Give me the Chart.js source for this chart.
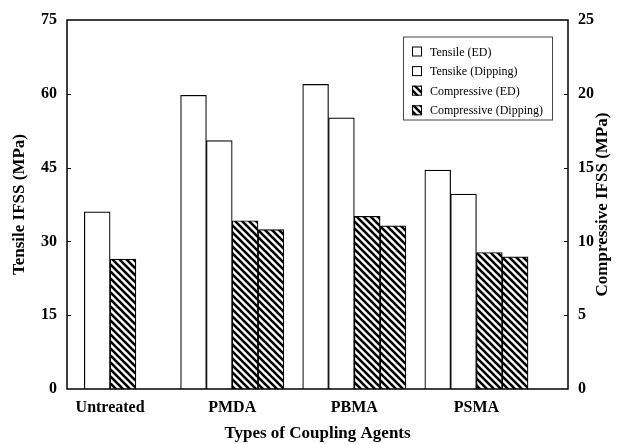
<!DOCTYPE html>
<html>
<head>
<meta charset="utf-8">
<title>IFSS by coupling agent</title>
<script src="https://cdn.jsdelivr.net/npm/chart.js@4/dist/chart.umd.min.js"></script>
<style>
  html, body { margin: 0; padding: 0; background: #fff; }
  #ifssChart { display: block; }
</style>
</head>
<body>
<canvas id="ifssChart" width="627" height="444"></canvas>
<script>
// Chart data
const categories = ['Untreated', 'PMDA', 'PBMA', 'PSMA'];
const tensileED = [36.0, 59.7, 61.9, 44.5];
const tensileDipping = [null, 50.5, 55.1, 39.6];
const compressiveED = [8.8, 11.4, 11.7, 9.25];
const compressiveDipping = [null, 10.8, 11.05, 8.95];
const tensileTicks = [0, 15, 30, 45, 60, 75];
const compressiveTicks = [0, 5, 10, 15, 20, 25];

const FONT = "'Liberation Serif', 'Times New Roman', serif";

// Diagonal hatch pattern used for the compressive bars
function makeHatch(size, width) {
  const c = document.createElement('canvas');
  c.width = size;
  c.height = size;
  const g = c.getContext('2d');
  g.fillStyle = '#fff';
  g.fillRect(0, 0, size, size);
  g.strokeStyle = '#000';
  g.lineWidth = width;
  g.lineCap = 'square';
  g.beginPath();
  g.moveTo(-size, 0); g.lineTo(0, size);
  g.moveTo(0, 0); g.lineTo(size, size);
  g.moveTo(size, 0); g.lineTo(2 * size, size);
  g.stroke();
  return g.createPattern(c, 'repeat');
}

function toPoints(values) {
  return values.map((v, i) => ({ x: i, y: v }));
}

// Box around the plot plus inward tick marks
const framePlugin = {
  id: 'frame',
  afterDatasetsDraw(chart) {
    const { ctx, chartArea: a, scales } = chart;
    ctx.save();
    ctx.strokeStyle = '#000';
    ctx.lineWidth = 1.5;
    ctx.strokeRect(a.left, a.top, a.right - a.left, a.bottom - a.top);

    ctx.lineWidth = 1;
    ctx.beginPath();
    tensileTicks.slice(1, -1).forEach(v => {
      const y = Math.round(scales.y.getPixelForValue(v)) + 0.5;
      ctx.moveTo(a.left, y);
      ctx.lineTo(a.left + 4, y);
    });
    compressiveTicks.slice(1, -1).forEach(v => {
      const y = Math.round(scales.y1.getPixelForValue(v)) + 0.5;
      ctx.moveTo(a.right, y);
      ctx.lineTo(a.right - 4, y);
    });
    ctx.stroke();
    ctx.restore();
  }
};

// Right axis title reads bottom to top, like the left one
const rightTitlePlugin = {
  id: 'rightTitle',
  afterDraw(chart) {
    const { ctx, chartArea: a } = chart;
    ctx.save();
    ctx.translate(603, (a.top + a.bottom) / 2);
    ctx.rotate(-Math.PI / 2);
    ctx.font = 'bold 17px ' + FONT;
    ctx.fillStyle = '#000';
    ctx.textAlign = 'center';
    ctx.textBaseline = 'middle';
    ctx.fillText('Compressive IFSS (MPa)', 0, 0);
    ctx.restore();
  }
};

// Legend box inside the plot, top right
const boxLegendPlugin = {
  id: 'boxLegend',
  afterDraw(chart) {
    const { ctx, chartArea: a } = chart;
    const datasets = chart.data.datasets;
    const w = 149, h = 83;
    const x0 = a.right - 16 - w;
    const y0 = a.top + 16.5;
    ctx.save();
    ctx.fillStyle = '#fff';
    ctx.fillRect(x0, y0, w, h);
    ctx.strokeStyle = '#444';
    ctx.lineWidth = 1;
    ctx.strokeRect(x0 + 0.5, y0 + 0.5, w, h);

    ctx.font = '12px ' + FONT;
    ctx.textBaseline = 'middle';
    datasets.forEach((ds, i) => {
      const cy = y0 + 15 + i * 19.6;
      ctx.fillStyle = ds.backgroundColor;
      ctx.fillRect(x0 + 9, cy - 5, 10, 10);
      ctx.strokeStyle = '#000';
      ctx.strokeRect(x0 + 9.5, cy - 4.5, 9, 9);
      ctx.fillStyle = '#000';
      ctx.fillText(ds.label, x0 + 27, cy + 1);
    });
    ctx.restore();
  }
};

function initIfssChart() {
  const canvas = document.getElementById('ifssChart');
  if (!canvas) return;

  const hatch = makeHatch(7, 2.6);
  const barStyle = {
    borderColor: '#000',
    borderWidth: 1.2,
    barThickness: 25.8,
    skipNull: true
  };

  new Chart(canvas, {
    type: 'bar',
    data: {
      datasets: [
        { label: 'Tensile (ED)', data: toPoints(tensileED), backgroundColor: '#fff', yAxisID: 'y', ...barStyle },
        { label: 'Tensike (Dipping)', data: toPoints(tensileDipping), backgroundColor: '#fff', yAxisID: 'y', ...barStyle },
        { label: 'Compressive (ED)', data: toPoints(compressiveED), backgroundColor: hatch, yAxisID: 'y1', ...barStyle },
        { label: 'Compressive (Dipping)', data: toPoints(compressiveDipping), backgroundColor: hatch, yAxisID: 'y1', ...barStyle }
      ]
    },
    options: {
      responsive: false,
      animation: false,
      layout: { padding: { top: 20, left: 0, right: 0, bottom: 0 } },
      plugins: {
        legend: { display: false },
        tooltip: { enabled: false }
      },
      scales: {
        x: {
          type: 'linear',
          min: -0.353,
          max: 3.75,
          offset: false,
          grid: { display: false, offset: false, drawTicks: false },
          border: { display: false },
          ticks: {
            stepSize: 1,
            includeBounds: false,
            autoSkip: false,
            maxRotation: 0,
            padding: 9,
            color: '#000',
            font: { family: FONT, size: 16, weight: 'bold' },
            callback: v => (Number.isInteger(v) ? categories[v] : '')
          },
          title: {
            display: true,
            text: 'Types of Coupling Agents',
            color: '#000',
            padding: 0,
            font: { family: FONT, size: 17, weight: 'bold' }
          },
          afterFit: s => { s.height = 55; }
        },
        y: {
          position: 'left',
          min: tensileTicks[0],
          max: tensileTicks[tensileTicks.length - 1],
          grid: { display: false, drawTicks: false },
          border: { display: false },
          ticks: {
            stepSize: 15,
            padding: 10,
            color: '#000',
            font: { family: FONT, size: 16, weight: 'bold' }
          },
          title: {
            display: true,
            text: 'Tensile IFSS (MPa)',
            color: '#000',
            padding: { top: 9, bottom: 0 },
            font: { family: FONT, size: 17, weight: 'bold' }
          },
          afterFit: s => { s.width = 67; }
        },
        y1: {
          position: 'right',
          min: compressiveTicks[0],
          max: compressiveTicks[compressiveTicks.length - 1],
          grid: { display: false, drawTicks: false },
          border: { display: false },
          ticks: {
            stepSize: 5,
            padding: 10,
            color: '#000',
            font: { family: FONT, size: 16, weight: 'bold' }
          },
          afterFit: s => { s.width = 59; }
        }
      }
    },
    plugins: [framePlugin, rightTitlePlugin, boxLegendPlugin]
  });
}

document.addEventListener('DOMContentLoaded', initIfssChart);
</script>
</body>
</html>
